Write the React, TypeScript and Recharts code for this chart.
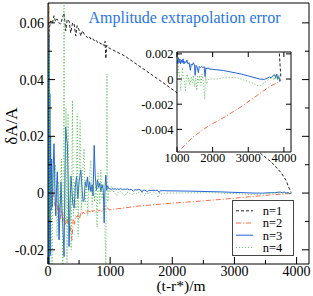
import { LineChart, Line, XAxis, YAxis, ReferenceLine, CartesianGrid, Legend } from "recharts";

const FONT = '"Liberation Serif", Tinos, "Times New Roman", Times, "DejaVu Serif", serif';

// (t - r*)/m  vs  dA/A
// early ringdown part (t < 1000) is very noisy, the tail is smooth-ish
const n1Head: [number, number][] = [
  [0, 0.07], [5, 0.035], [10, 0.069], [15, 0.048], [20, 0.058], [45, 0.0607], [70, 0.0598],
  [97, 0.0625], [120, 0.0605], [145, 0.0614], [175, 0.06], [205, 0.0596], [235, 0.062],
  [258, 0.0635], [285, 0.0572], [310, 0.0612], [339, 0.0607], [366, 0.0565], [395, 0.06],
  [420, 0.0596], [447, 0.0554], [468, 0.059], [500, 0.0575], [528, 0.0554], [555, 0.0572],
  [581, 0.0561], [610, 0.0555], [635, 0.0548], [660, 0.0553], [689, 0.0543], [715, 0.0546],
  [743, 0.0537], [770, 0.054], [797, 0.0531], [825, 0.0533], [851, 0.0525], [880, 0.0527],
  [904, 0.0519], [918, 0.0535], [931, 0.0474], [945, 0.0521], [970, 0.0513],
];
const n1Tail: [number, number][] = [
  [1010, 0.0508], [1230, 0.0484], [1500, 0.0443], [1800, 0.0397], [2100, 0.035], [2400, 0.0302],
  [2700, 0.0253], [3000, 0.0204], [3200, 0.0173], [3420, 0.014], [3600, 0.0108], [3750, 0.0072],
  [3830, 0.0045], [3870, 0.0022], [3900, 0.0008], [3915, 0.0002],
];

const n2Head: [number, number][] = [
  [0, 0.07], [6, -0.03], [12, 0.07], [18, -0.03], [24, 0.02], [30, -0.01], [45, 0.004],
  [60, -0.002], [80, 0.0018], [100, -0.003], [120, -0.005], [140, -0.002], [160, -0.007],
  [180, -0.004], [200, -0.009], [220, -0.006], [240, -0.01], [260, -0.007], [280, -0.011],
  [306, -0.0085], [325, -0.012], [345, -0.008], [365, -0.014], [387, -0.0166], [405, -0.009],
  [425, -0.011], [445, -0.008], [468, -0.0085], [490, -0.0075], [510, -0.009], [530, -0.0065],
  [550, -0.0075], [565, -0.0067], [590, -0.0072], [610, -0.006], [630, -0.0068], [655, -0.0062],
  [680, -0.007], [700, -0.0058], [720, -0.0066], [745, -0.006], [770, -0.0068], [790, -0.0057],
  [815, -0.0063], [840, -0.006], [865, -0.0066], [890, -0.0055], [910, -0.0062], [930, -0.0045],
  [950, -0.005], [975, -0.0058],
];
const n2Tail: [number, number][] = [
  [1000, -0.0059], [1100, -0.0056], [1450, -0.0046], [1900, -0.0037], [2350, -0.003],
  [2800, -0.0022], [3250, -0.0013], [3600, -0.0006], [3870, -0.0002], [3915, 0],
];

const n3Head: [number, number][] = [
  [0, -0.03], [4, 0.06], [8, -0.03], [12, 0.055], [16, -0.03], [20, 0.05], [25, -0.028],
  [30, 0.035], [36, -0.022], [42, 0.02], [50, -0.006], [58, 0.012], [70, -0.005], [85, 0.01],
  [97, 0.0174], [110, 0.002], [125, -0.008], [140, 0.003], [150, 0.0075], [165, -0.004],
  [178, -0.0165], [195, -0.005], [210, 0.004], [225, -0.006], [240, -0.012], [258, -0.0224],
  [272, 0.005], [285, 0.0233], [300, 0.019], [312, 0.0175], [325, 0.004], [339, -0.0188],
  [355, -0.004], [370, 0.006], [385, 0.001], [400, -0.004], [420, -0.0053], [440, 0.002],
  [460, 0.006], [480, -0.002], [500, 0.004], [528, 0.0081], [550, 0.001], [565, -0.003],
  [581, -0.0025], [600, 0.004], [620, 0.002], [635, 0.0057], [655, 0.001], [670, 0.004],
  [690, 0.0005], [710, 0.003], [725, -0.001], [743, 0.0168], [760, 0.006], [780, 0.001],
  [797, 0.0046], [815, 0.002], [835, 0.0035], [850, 0.0005], [870, 0.003], [890, 0.001],
  [904, -0.0105], [918, 0.002], [931, 0.0063], [945, 0.001], [960, 0.0025], [980, 0.0015],
];
const n3Tail: [number, number][] = [
  [1000, 0.0015], [1020, 0.0012], [1040, 0.0017], [1060, 0.0013], [1080, 0.0016], [1100, 0.0012],
  [1120, 0.0015], [1145, 0.0013], [1170, 0.0016], [1195, 0.0012], [1220, 0.0014], [1250, 0.0013],
  [1280, 0.0015], [1310, 0.0012], [1340, 0.0013], [1375, 0.0007], [1400, 0.0012], [1430, 0.0011],
  [1460, 0.0013], [1490, 0.0011], [1510, 0.0003], [1535, 0.0011], [1560, 0.001], [1600, 0.0005],
  [1625, 0.001], [1655, 0.0009], [1690, 0.001], [1730, 0.0009], [1760, 0.001], [1788, 0.0002],
  [1810, 0.0009], [1840, 0.0008], [1870, 0.0009], [1900, 0.0008], [2300, 0.00068], [2800, 0.0004],
  [3320, 0], [3450, -0.00003], [3600, 0.00016], [3650, 0.0001], [3700, 0.0003], [3740, 0.00034],
  [3770, 0.0001], [3800, 0.0004], [3830, 0], [3860, 0.0002], [3885, -0.0002], [3915, -0.0001],
];

const n4Head: [number, number][] = [
  [0, -0.03], [8, 0.07], [16, -0.03], [24, 0.05], [35, -0.01], [50, 0.005], [65, -0.026],
  [80, 0.008], [100, 0.002], [120, 0.01], [145, -0.0154], [170, 0.004], [195, -0.006],
  [215, 0.012], [240, -0.027], [258, 0.075], [275, -0.01], [290, 0.03], [306, -0.028],
  [323, 0.028], [339, -0.012], [360, 0.006], [375, -0.02], [393, 0.0326], [410, -0.008],
  [430, 0.004], [450, -0.006], [470, 0.028], [484, -0.0154], [500, 0.004], [517, 0.0256],
  [535, -0.006], [555, 0.006], [581, 0.0157], [600, -0.004], [620, 0.005], [640, -0.008],
  [660, 0.004], [689, 0.0116], [710, -0.005], [730, 0.003], [750, -0.003], [770, 0.004],
  [790, -0.012], [805, 0.007], [820, 0.001], [835, -0.004], [851, 0.0081], [870, -0.002],
  [890, 0.003], [910, -0.006], [931, -0.026], [948, 0.042], [962, -0.003], [980, 0.001],
];
const n4Tail: [number, number][] = [
  [1000, 0.0004], [1018, 0.0023], [1040, 0.0005], [1062, 0.0006], [1085, -0.0002], [1107, -0.0009],
  [1130, 0.0003], [1153, 0.0009], [1175, 0.0002], [1196, 0], [1220, -0.0004], [1241, -0.001],
  [1265, 0.0002], [1290, 0.0004], [1310, -0.0002], [1330, 0.0001], [1355, -0.0005], [1375, -0.0004],
  [1400, 0.0002], [1430, -0.0003], [1460, 0.0003], [1490, -0.0006], [1520, 0.0001], [1555, -0.0009],
  [1580, 0.0002], [1610, -0.0003], [1640, 0.0003], [1670, -0.0005], [1700, 0.0004], [1733, 0],
  [1755, -0.0008], [1777, -0.0016], [1800, 0.0002], [1830, -0.0004], [1867, -0.0001], [1900, 0],
  [1957, 0], [2100, 0], [2300, 0.0001], [2500, 0.00012], [2700, 0.0001], [2900, -0.0001],
  [3100, -0.0003], [3250, -0.0005], [3350, -0.0005], [3450, -0.0003], [3550, -0.0001], [3650, 0.0001],
  [3700, 0.0002], [3720, -0.0001], [3750, 0.0004], [3780, 0], [3800, 0.0003], [3830, -0.0001],
  [3860, 0.0003], [3880, 0.0001], [3915, 0],
];

const X_TICKS = [0, 500, 1000, 1500, 2000, 2500, 3000, 3500, 4000];
const Y_TICKS = [-0.02, -0.01, 0, 0.01, 0.02, 0.03, 0.04, 0.05, 0.06];
const INSET_X_TICKS = [1000, 2000, 3000, 4000];
const INSET_Y_TICKS = [-0.004, -0.002, 0, 0.002];

const rows = (pts: [number, number][]) => pts.map(([t, v]) => ({ t, v }));

const SERIES = [
  { key: "n1", name: "n=1", data: rows([...n1Head, ...n1Tail]), color: "#222222", dash: "3 2" },
  { key: "n2", name: "n=2", data: rows([...n2Head, ...n2Tail]), color: "#ff6a45", dash: "5 2 1 2" },
  { key: "n3", name: "n=3", data: rows([...n3Head, ...n3Tail]), color: "#2563d8", dash: undefined },
  { key: "n4", name: "n=4", data: rows([...n4Head, ...n4Tail]), color: "#5cbf5c", dash: "1 2" },
];

// plot frame of the main chart (px)
const MAIN_TOP = 3;
const MAIN_RIGHT = 309;
// plot frame of the inset (px, inset coords)
const IN_W = 172;
const IN_TOP = 4;
const IN_RIGHT = 161;

const fmt = (v: number) => (v === 0 ? "0" : String(v));

const MainXTick = (props: any) => {
  const { x, y, payload } = props;
  const major = payload.value % 1000 === 0;
  return (
    <g>
      <line x1={x} x2={x} y1={y} y2={y - (major ? 7 : 4)} stroke="#000" />
      {major && (
        <text x={x} y={y + 11.5} textAnchor="middle" fontSize={14} fontFamily={FONT} fill="#000">
          {payload.value}
        </text>
      )}
    </g>
  );
};

const MainYTick = (props: any) => {
  const { x, y, payload } = props;
  const major = Math.round(payload.value * 100) % 2 === 0;
  const len = major ? 7 : 4;
  return (
    <g>
      <line x1={x} x2={x + len} y1={y} y2={y} stroke="#000" />
      <line x1={MAIN_RIGHT} x2={MAIN_RIGHT - len} y1={y} y2={y} stroke="#000" />
      {major && (
        <text x={x - 4} y={y + 5} textAnchor="end" fontSize={14} fontFamily={FONT} fill="#000">
          {fmt(payload.value)}
        </text>
      )}
    </g>
  );
};

const InsetXTick = (props: any) => {
  const { x, y, payload } = props;
  return (
    <g>
      <line x1={x} x2={x} y1={y} y2={y - 5} stroke="#000" />
      <line x1={x} x2={x} y1={IN_TOP} y2={IN_TOP + 5} stroke="#000" />
      <text x={x} y={y + 9.5} textAnchor="middle" fontSize={12.5} fontFamily={FONT} fill="#000">
        {payload.value}
      </text>
    </g>
  );
};

const InsetYTick = (props: any) => {
  const { x, y, payload } = props;
  return (
    <g>
      <line x1={x} x2={x + 5} y1={y} y2={y} stroke="#000" />
      <line x1={IN_RIGHT} x2={IN_RIGHT - 5} y1={y} y2={y} stroke="#000" />
      <text x={x - 3.5} y={y + 4.5} textAnchor="end" fontSize={12.5} fontFamily={FONT} fill="#000">
        {fmt(payload.value)}
      </text>
    </g>
  );
};

const XTitle = ({ viewBox }: any) => (
  <text x={viewBox.x + viewBox.width / 2 + 2.5} y={viewBox.y + 26.5} textAnchor="middle" fontSize={15.5} fontFamily={FONT} fill="#000">
    (t-r*)/m
  </text>
);

const YTitle = ({ viewBox }: any) => {
  const cx = viewBox.x + 16.5;
  const cy = viewBox.y + viewBox.height / 2 - 7.5;
  return (
    <text x={cx} y={cy} transform={`rotate(-90 ${cx} ${cy})`} textAnchor="middle" fontSize={17} fontFamily={FONT} fill="#000">
      δA/A
    </text>
  );
};

const LegendBox = (props: any) => {
  const items = props.payload ?? [];
  return (
    <div style={{ width: 62, height: 56, border: "1px solid #444", background: "#fff", boxSizing: "border-box" }}>
      <svg width={60} height={54} style={{ display: "block" }}>
        {items.map((it: any, i: number) => {
          const y = 9.8 + i * 12.2;
          const s = SERIES.find((d) => d.name === it.value);
          return (
            <g key={it.value}>
              <line x1={3} x2={20} y1={y} y2={y} stroke={it.color} strokeDasharray={s?.dash} />
              <text x={29.7} y={y + 4.3} fontSize={12.5} fontFamily={FONT} fill="#000">
                {it.value}
              </text>
            </g>
          );
        })}
      </svg>
    </div>
  );
};

export default function App() {
  return (
    <div style={{ position: "absolute", left: 0, top: 0, width: 313, height: 296, background: "#fff", fontFamily: FONT }}>
      <LineChart width={313} height={296} margin={{ top: MAIN_TOP, right: 313 - MAIN_RIGHT, bottom: 0, left: 0 }}>
        <XAxis
          xAxisId="x"
          dataKey="t"
          type="number"
          domain={[0, 4200]}
          ticks={X_TICKS}
          interval={0}
          allowDataOverflow
          height={32}
          tickSize={0}
          tickMargin={0}
          tickLine={false}
          axisLine={{ stroke: "#000" }}
          tick={(p: any) => <MainXTick {...p} />}
          label={XTitle}
        />
        <YAxis
          yAxisId="y"
          type="number"
          domain={[-0.025, 0.067]}
          ticks={Y_TICKS}
          interval={0}
          allowDataOverflow
          width={48}
          tickSize={0}
          tickMargin={0}
          tickLine={false}
          axisLine={{ stroke: "#000" }}
          tick={(p: any) => <MainYTick {...p} />}
          label={YTitle}
        />
        <ReferenceLine xAxisId="x" yAxisId="y" y={0.067} stroke="#000" />
        <ReferenceLine xAxisId="x" yAxisId="y" x={4200} stroke="#000" />
        {SERIES.map((s) => (
          <Line
            key={s.key}
            xAxisId="x"
            yAxisId="y"
            data={s.data}
            dataKey="v"
            name={s.name}
            stroke={s.color}
            strokeWidth={1}
            strokeDasharray={s.dash}
            dot={false}
            isAnimationActive={false}
          />
        ))}
        <Legend
          layout="vertical"
          align="center"
          verticalAlign="middle"
          content={LegendBox}
          wrapperStyle={{ left: 232, top: 200, width: 62, height: 56 }}
        />
      </LineChart>

      <div
        style={{
          position: "absolute",
          left: 0,
          top: 9.6,
          width: 313,
          paddingLeft: 56,
          boxSizing: "border-box",
          textAlign: "center",
          fontFamily: FONT,
          fontSize: 16,
          lineHeight: "16px",
          color: "#2a74e4",
          whiteSpace: "nowrap",
        }}
      >
        Amplitude extrapolation error
      </div>

      <div style={{ position: "absolute", left: 130, top: 48 }}>
        <LineChart width={IN_W} height={124} margin={{ top: IN_TOP, right: IN_W - IN_RIGHT, bottom: 0, left: 0 }}>
          <CartesianGrid xAxisId="x" yAxisId="y" horizontal={false} vertical={false} fill="#fff" fillOpacity={1} />
          <XAxis
            xAxisId="x"
            dataKey="t"
            type="number"
            domain={[1000, 4200]}
            ticks={INSET_X_TICKS}
            interval={0}
            allowDataOverflow
            height={20}
            tickSize={0}
            tickMargin={0}
            tickLine={false}
            axisLine={{ stroke: "#000" }}
            tick={(p: any) => <InsetXTick {...p} />}
          />
          <YAxis
            yAxisId="y"
            type="number"
            domain={[-0.0058, 0.00215]}
            ticks={INSET_Y_TICKS}
            interval={0}
            allowDataOverflow
            width={47}
            tickSize={0}
            tickMargin={0}
            tickLine={false}
            axisLine={{ stroke: "#000" }}
            tick={(p: any) => <InsetYTick {...p} />}
          />
          <ReferenceLine xAxisId="x" yAxisId="y" y={0.00215} stroke="#000" />
          <ReferenceLine xAxisId="x" yAxisId="y" x={4200} stroke="#000" />
          {SERIES.map((s) => (
            <Line
              key={s.key}
              xAxisId="x"
              yAxisId="y"
              data={s.data}
              dataKey="v"
              name={s.name}
              stroke={s.color}
              strokeWidth={1}
              strokeDasharray={s.dash}
              dot={false}
              isAnimationActive={false}
            />
          ))}
        </LineChart>
      </div>
    </div>
  );
}
